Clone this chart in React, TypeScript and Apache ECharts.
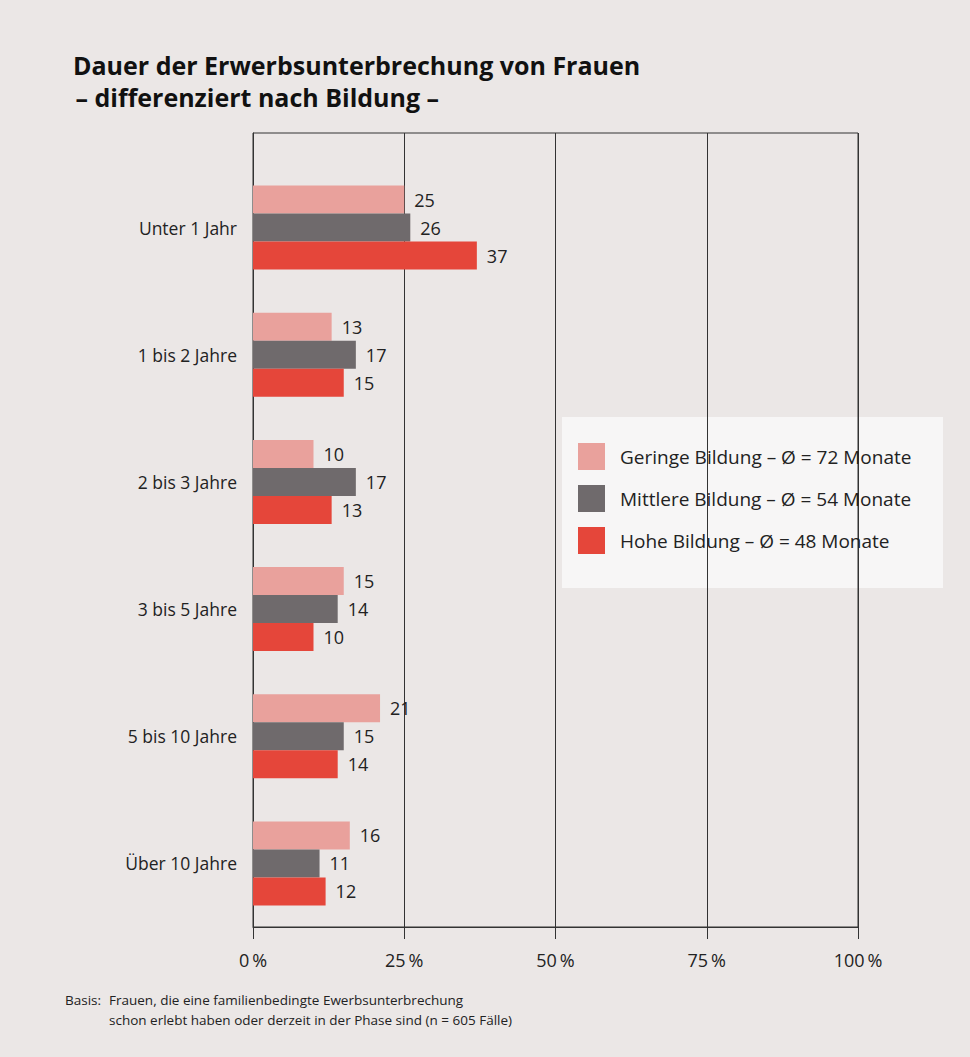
import React, { useEffect, useRef } from "react";
import * as echarts from "echarts";

const categories = ["Unter 1 Jahr", "1 bis 2 Jahre", "2 bis 3 Jahre", "3 bis 5 Jahre", "5 bis 10 Jahre", "Über 10 Jahre"];
const seriesNames = [
  "Geringe Bildung – Ø = 72 Monate",
  "Mittlere Bildung – Ø = 54 Monate",
  "Hohe Bildung – Ø = 48 Monate",
];
const geringe = [25, 13, 10, 15, 21, 16];
const mittlere = [26, 17, 17, 14, 15, 11];
const hohe = [37, 15, 13, 10, 14, 12];
const xTicks = [0, 25, 50, 75, 100];

const titleLines = ["Dauer der Erwerbsunterbrechung von Frauen", " – differenziert nach Bildung –"];
const footLabel = "Basis:";
const footLines = [
  "Frauen, die eine familienbedingte Ewerbsunterbrechung",
  "schon erlebt haben oder derzeit in der Phase sind (n = 605 Fälle)",
];

const colors = ["#e9a19c", "#6f6a6c", "#e5463a"];
const FONT = "'Open Sans', 'Noto Sans', sans-serif";

export default function App() {
  const ref = useRef<HTMLDivElement>(null);
  useEffect(() => {
    document.body.style.margin = "0";
    const chart = echarts.init(ref.current!, null, { renderer: "svg" });
    const values = [geringe, mittlere, hohe];
    chart.setOption({
      animation: false,
      backgroundColor: "#ebe7e6",
      textStyle: { fontFamily: FONT },
      grid: [
        { left: 253, right: 112, top: 133, bottom: 130, show: true, borderColor: "#333", borderWidth: 1 },
        { left: 253, right: 112, top: 164, bottom: 130 },
      ],
      xAxis: [
        {
          gridIndex: 0,
          type: "value",
          min: xTicks[0],
          max: xTicks[xTicks.length - 1],
          interval: 25,
          axisLine: { show: true, lineStyle: { color: "#333", width: 1 } },
          axisTick: { show: true, length: 12, lineStyle: { color: "#333" } },
          splitLine: { show: true, lineStyle: { color: "#333", width: 1 } },
          axisLabel: {
            formatter: (v: number) => v + "\u2009%",
            color: "#222",
            fontSize: 18,
            margin: 24,
            fontFamily: FONT,
          },
        },
        { gridIndex: 1, type: "value", min: 0, max: 100, show: false },
      ],
      yAxis: [
        {
          gridIndex: 0,
          type: "value",
          min: 0,
          max: 1,
          axisLine: { show: true, lineStyle: { color: "#333" } },
          axisTick: { show: false },
          axisLabel: { show: false },
          splitLine: { show: false },
        },
        {
          gridIndex: 1,
          type: "category",
          data: categories,
          inverse: true,
          axisLine: { show: false },
          axisTick: { show: false },
          axisLabel: { color: "#222", fontSize: 17.5, margin: 16, fontFamily: FONT },
        },
      ],
      legend: {
        orient: "vertical",
        left: 573,
        top: 438,
        itemWidth: 27,
        itemHeight: 27,
        itemGap: 15,
        icon: "rect",
        data: seriesNames,
        textStyle: { color: "#222", fontSize: 19, fontFamily: FONT, padding: [0, 0, 0, 10] },
      },
      graphic: [
        {
          type: "rect",
          z: -1,
          shape: { x: 562, y: 417, width: 381, height: 171 },
          style: { fill: "#f7f6f6" },
        },
        {
          type: "text",
          left: 73,
          top: 52,
          style: { text: titleLines[0], fill: "#111", font: `bold 25px ${FONT}` },
        },
        {
          type: "text",
          left: 69,
          top: 84,
          style: { text: titleLines[1], fill: "#111", font: `bold 25px ${FONT}` },
        },
        {
          type: "text",
          left: 65,
          top: 993,
          style: { text: footLabel, fill: "#222", font: `13.5px ${FONT}` },
        },
        {
          type: "text",
          left: 109,
          top: 993,
          style: { text: footLines[0], fill: "#222", font: `13.5px ${FONT}` },
        },
        {
          type: "text",
          left: 109,
          top: 1013,
          style: { text: footLines[1], fill: "#222", font: `13.5px ${FONT}` },
        },
      ],
      series: values.map((d, i) => ({
        name: seriesNames[i],
        type: "bar",
        xAxisIndex: 1,
        yAxisIndex: 1,
        data: d,
        barWidth: 28,
        barGap: "0%",
        itemStyle: { color: colors[i] },
        label: {
          show: true,
          position: "right",
          distance: 10,
          color: "#222",
          fontSize: 18,
          fontFamily: FONT,
        },
      })),
    });
    return () => chart.dispose();
  }, []);
  return <div ref={ref} style={{ width: 970, height: 1057 }} />;
}
